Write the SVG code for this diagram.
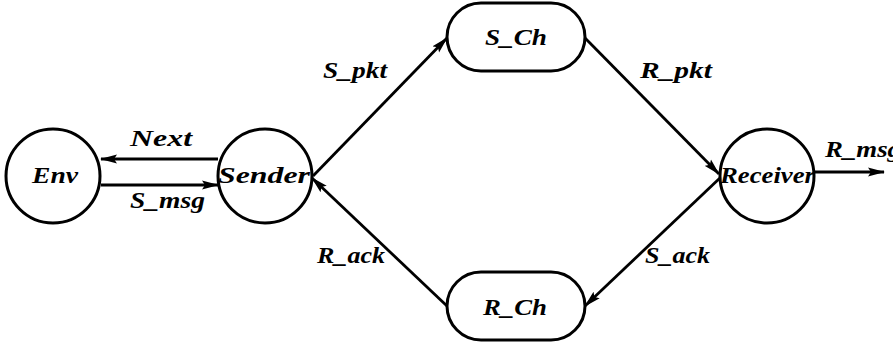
<svg xmlns="http://www.w3.org/2000/svg" width="893" height="343" viewBox="0 0 893 343">
  <style>
    .node { fill: #fff; stroke: #000; stroke-width: 3; }
    .edge { fill: none; stroke: #000; stroke-width: 2.8; }
    .lbl { font-family: "Liberation Serif", "DejaVu Serif", serif; font-style: italic; font-weight: bold; font-size: 23px; fill: #000; }
  </style>
  <defs>
    <marker id="arrow" viewBox="0 0 17 10" markerWidth="17" markerHeight="10" refX="16" refY="5" orient="auto" markerUnits="userSpaceOnUse">
      <path d="M0,0.5 L17,5 L0,9.5 L3,5 z" fill="#000"/>
    </marker>
  </defs>
  <rect width="893" height="343" fill="#fff"/>

  <!-- connectors -->
  <g id="connectors">
    <line class="edge" x1="218" y1="159" x2="101" y2="159" marker-end="url(#arrow)"/>
    <line class="edge" x1="101" y1="185" x2="218" y2="185" marker-end="url(#arrow)"/>
    <line class="edge" x1="313" y1="176" x2="447" y2="38" marker-end="url(#arrow)"/>
    <line class="edge" x1="585" y1="38" x2="719" y2="174" marker-end="url(#arrow)"/>
    <line class="edge" x1="721" y1="177" x2="585" y2="306" marker-end="url(#arrow)"/>
    <line class="edge" x1="447" y1="306" x2="312" y2="178" marker-end="url(#arrow)"/>
    <line class="edge" x1="814" y1="172" x2="884" y2="172" marker-end="url(#arrow)"/>
  </g>

  <!-- connector labels -->
  <g id="edge-labels">
    <text class="lbl" x="130" y="146" textLength="62" lengthAdjust="spacingAndGlyphs">Next</text>
    <text class="lbl" x="130" y="208" textLength="75" lengthAdjust="spacingAndGlyphs">S_msg</text>
    <text class="lbl" x="323" y="78" textLength="64" lengthAdjust="spacingAndGlyphs">S_pkt</text>
    <text class="lbl" x="640" y="78" textLength="72" lengthAdjust="spacingAndGlyphs">R_pkt</text>
    <text class="lbl" x="317" y="263" textLength="68" lengthAdjust="spacingAndGlyphs">R_ack</text>
    <text class="lbl" x="645" y="263" textLength="65" lengthAdjust="spacingAndGlyphs">S_ack</text>
    <text class="lbl" x="825" y="157" textLength="76" lengthAdjust="spacingAndGlyphs">R_msg</text>
  </g>

  <g id="Env">
    <circle class="node" cx="53" cy="176" r="47"/>
    <text class="lbl" x="32" y="183" textLength="46" lengthAdjust="spacingAndGlyphs">Env</text>
  </g>
  <g id="Sender">
    <circle class="node" cx="265" cy="176" r="47"/>
    <text class="lbl" x="218" y="183" textLength="92" lengthAdjust="spacingAndGlyphs">Sender</text>
  </g>
  <g id="S_Ch">
    <rect class="node" x="447" y="3" width="138" height="68" rx="34" ry="34"/>
    <text class="lbl" x="485" y="45" textLength="62" lengthAdjust="spacingAndGlyphs">S_Ch</text>
  </g>
  <g id="R_Ch">
    <rect class="node" x="447" y="272" width="138" height="68" rx="34" ry="34"/>
    <text class="lbl" x="483" y="315" textLength="64" lengthAdjust="spacingAndGlyphs">R_Ch</text>
  </g>
  <g id="Receiver">
    <circle class="node" cx="767" cy="176" r="47"/>
    <text class="lbl" x="720" y="183" textLength="95" lengthAdjust="spacingAndGlyphs">Receiver</text>
  </g>
</svg>
